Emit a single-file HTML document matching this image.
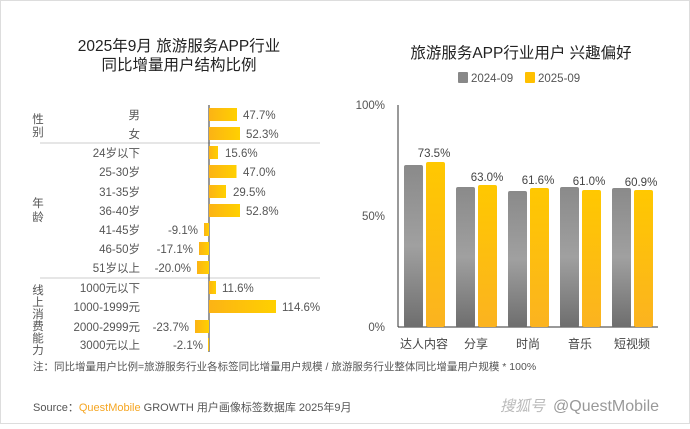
<!DOCTYPE html>
<html><head><meta charset="utf-8"><style>
body{margin:0;width:690px;height:424px;overflow:hidden;background:#fff;font-family:"Liberation Sans","Noto Sans CJK SC",sans-serif;}
</style></head><body>
<svg width="690" height="424" xmlns="http://www.w3.org/2000/svg" font-family="Liberation Sans, Noto Sans CJK SC, sans-serif">
<defs>
<linearGradient id="y" x1="0" y1="0" x2="1" y2="0"><stop offset="0" stop-color="#fcb315"/><stop offset="1" stop-color="#ffd000"/></linearGradient>
<linearGradient id="yv" x1="0" y1="0" x2="0" y2="1"><stop offset="0" stop-color="#ffc800"/><stop offset="1" stop-color="#fbb320"/></linearGradient>
<linearGradient id="gv" x1="0" y1="0" x2="0" y2="1"><stop offset="0" stop-color="#8a8a8a"/><stop offset="0.5" stop-color="#a0a0a0"/><stop offset="1" stop-color="#6e6e6e"/></linearGradient>
</defs>
<rect x="0.5" y="0.5" width="689" height="423" fill="#fff" stroke="#ddd"/>
<g font-size="15.5" fill="#222" text-anchor="middle">
<text x="179" y="51">2025年9月 旅游服务APP行业</text>
<text x="179" y="70">同比增量用户结构比例</text>
<text x="521" y="58">旅游服务APP行业用户 兴趣偏好</text>
</g>
<rect x="458" y="72" width="10" height="11" fill="#888" rx="1"/>
<text x="471" y="82" font-size="11.5" fill="#555">2024-09</text>
<rect x="525" y="72" width="10" height="11" fill="#ffc000" rx="1"/>
<text x="538" y="82" font-size="11.5" fill="#555">2025-09</text>
<line x1="40" y1="143" x2="320" y2="143" stroke="#ccc"/>
<line x1="40" y1="278" x2="320" y2="278" stroke="#ccc"/>
<line x1="209" y1="105" x2="209" y2="352" stroke="#333"/>
<g font-size="11.5" fill="#555" text-anchor="middle">
<text x="38" y="123">性</text><text x="38" y="136">别</text>
<text x="38" y="207">年</text><text x="38" y="221">龄</text>
<text x="38" y="294">线</text><text x="38" y="306">上</text><text x="38" y="318">消</text><text x="38" y="330">费</text><text x="38" y="342">能</text><text x="38" y="354">力</text>
</g>
<g font-size="11.5" fill="#555">
<g text-anchor="end">
<text x="140" y="119">男</text><text x="140" y="138">女</text><text x="140" y="157">24岁以下</text><text x="140" y="176">25-30岁</text><text x="140" y="196">31-35岁</text><text x="140" y="215">36-40岁</text><text x="140" y="234">41-45岁</text><text x="140" y="253">46-50岁</text><text x="140" y="272">51岁以上</text><text x="140" y="292">1000元以下</text><text x="140" y="311">1000-1999元</text><text x="140" y="331">2000-2999元</text><text x="140" y="349">3000元以上</text>
<text x="198" y="234">-9.1%</text><text x="193" y="253">-17.1%</text><text x="191" y="272">-20.0%</text><text x="189" y="331">-23.7%</text><text x="203" y="349">-2.1%</text>
</g>
<text x="243" y="119">47.7%</text><text x="246" y="138">52.3%</text><text x="225" y="157">15.6%</text><text x="243" y="176">47.0%</text><text x="233" y="196">29.5%</text><text x="246" y="215">52.8%</text><text x="222" y="292">11.6%</text><text x="282" y="311">114.6%</text>
</g>
<g fill="url(#y)">
<rect x="209" y="108" width="28" height="13"/><rect x="209" y="127" width="31" height="13"/><rect x="209" y="146" width="9" height="13"/><rect x="209" y="165" width="27.5" height="13"/><rect x="209" y="185" width="17" height="13"/><rect x="209" y="204" width="31" height="13"/>
<rect x="204" y="223" width="5" height="13"/><rect x="199" y="242" width="10" height="13"/><rect x="197" y="261" width="12" height="13"/>
<rect x="209" y="281" width="7" height="13"/><rect x="209" y="300" width="67" height="13"/><rect x="195" y="320" width="14" height="13"/><rect x="208" y="338" width="1" height="13"/>
</g>
<g font-size="11.5" fill="#555" text-anchor="end">
<text x="385" y="109">100%</text><text x="385" y="220">50%</text><text x="385" y="331">0%</text>
</g>
<line x1="398" y1="105" x2="398" y2="327" stroke="#333"/>
<line x1="398" y1="327" x2="658" y2="327" stroke="#333"/>
<g fill="url(#gv)">
<rect x="404" y="165" width="19" height="162" rx="2"/><rect x="456" y="187" width="19" height="140" rx="2"/><rect x="508" y="191" width="19" height="136" rx="2"/><rect x="560" y="187" width="19" height="140" rx="2"/><rect x="612" y="188" width="19" height="139" rx="2"/>
</g>
<g fill="url(#yv)">
<rect x="426" y="162" width="19" height="165" rx="2"/><rect x="478" y="185" width="19" height="142" rx="2"/><rect x="530" y="188" width="19" height="139" rx="2"/><rect x="582" y="190" width="19" height="137" rx="2"/><rect x="634" y="190" width="19" height="137" rx="2"/>
</g>
<g font-size="11.5" fill="#444" text-anchor="middle">
<text x="434" y="157">73.5%</text><text x="487" y="181">63.0%</text><text x="538" y="184">61.6%</text><text x="589" y="185">61.0%</text><text x="641" y="186">60.9%</text>
</g>
<g font-size="12" fill="#444" text-anchor="middle">
<text x="424" y="348">达人内容</text><text x="476" y="348">分享</text><text x="528" y="348">时尚</text><text x="580" y="348">音乐</text><text x="632" y="348">短视频</text>
</g>
<text x="33" y="370" font-size="10.5" fill="#555">注：同比增量用户比例=旅游服务行业各标签同比增量用户规模 / 旅游服务行业整体同比增量用户规模 * 100%</text>
<text x="33" y="411" font-size="11" fill="#555">Source：<tspan fill="#f5a623">QuestMobile</tspan> GROWTH 用户画像标签数据库 2025年9月</text>
<text x="500" y="411" font-size="15" fill="#bbb" font-style="italic">搜狐号</text>
<text x="553" y="411" font-size="16" fill="#999">@QuestMobile</text>
</svg>
</body></html>
